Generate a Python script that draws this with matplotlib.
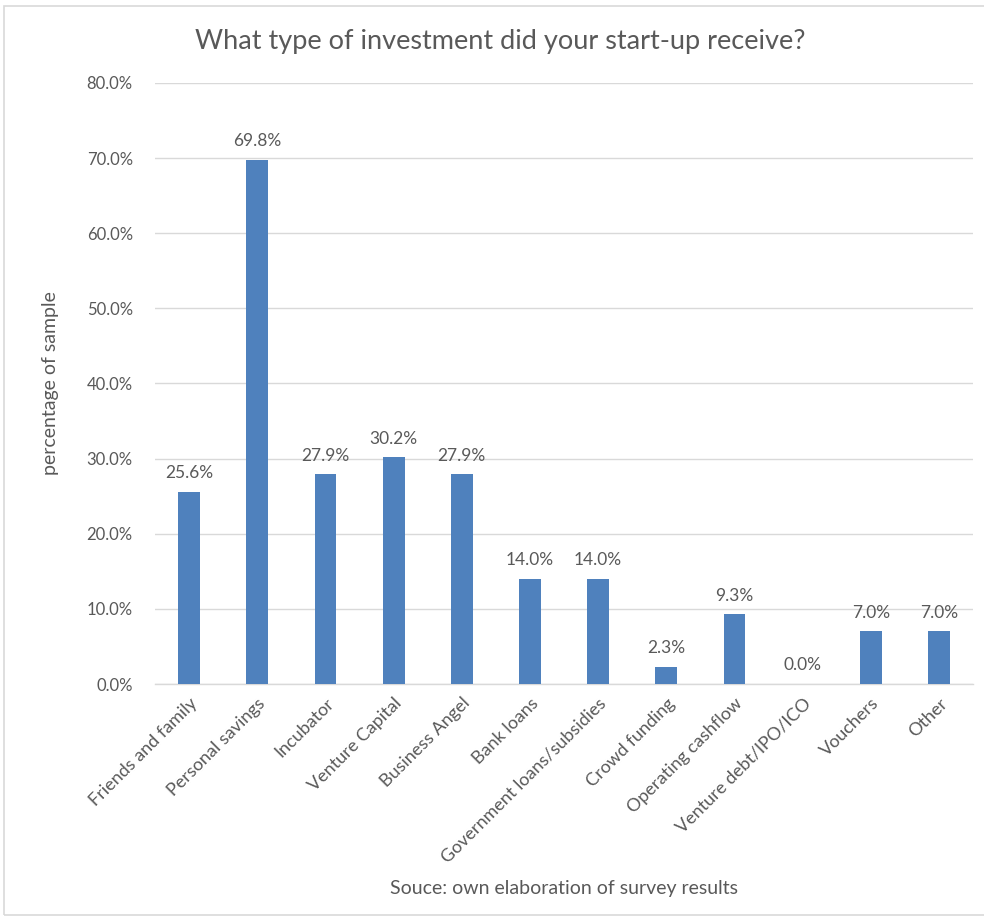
import matplotlib.pyplot as plt
from matplotlib.patches import Rectangle

# survey answers (share of respondents, %)
categories = ['Friends and family', 'Personal savings', 'Incubator', 'Venture Capital',
              'Business Angel', 'Bank loans', 'Government loans/subsidies', 'Crowd funding',
              'Operating cashflow', 'Venture debt/IPO/ICO', 'Vouchers', 'Other']
shares = [25.6, 69.8, 27.9, 30.2, 27.9, 14.0, 14.0, 2.3, 9.3, 0.0, 7.0, 7.0]
y_ticks = [0, 10, 20, 30, 40, 50, 60, 70, 80]

plt.rcParams['font.family'] = ['Lato', 'DejaVu Sans']
txt = '#595959'
grid = '#D9D9D9'

fig = plt.figure(figsize=(9.84, 9.19), dpi=100)
fig.patches.append(Rectangle((0.004, 0.004), 1.2, 0.99, transform=fig.transFigure,
                             fill=False, edgecolor=grid, linewidth=1.2))
ax = fig.add_axes([0.1575, 0.2557, 0.8315, 0.654])

x = list(range(len(categories)))
ax.bar(x, shares, width=0.32, color='#4F81BD', zorder=3)
for xi, v in zip(x, shares):
    ax.text(xi, v + 1.4, f'{v:.1f}%', ha='center', va='bottom', fontsize=12.5, color=txt)

ax.set_xlim(-0.5, len(categories) - 0.5)
ax.set_ylim(0, 80)
ax.set_yticks(y_ticks)
ax.set_yticklabels([f'{t:.1f}%' for t in y_ticks], fontsize=12, color=txt)
ax.set_xticks(x)
ax.set_xticklabels(categories, rotation=45, ha='right', rotation_mode='anchor',
                   fontsize=13, color=txt)
ax.tick_params(axis='both', length=0)
ax.tick_params(axis='y', pad=16)
ax.tick_params(axis='x', pad=8)
ax.grid(axis='y', color=grid, linewidth=1, zorder=0)
for s in ['top', 'right', 'left']:
    ax.spines[s].set_visible(False)
ax.spines['bottom'].set_color(grid)
ax.spines['bottom'].set_linewidth(1)

ax.set_ylabel('percentage of sample', fontsize=14, color=txt, labelpad=20)
ax.set_xlabel('Souce: own elaboration of survey results', fontsize=14, color=txt, labelpad=10)
fig.text(0.508, 0.955, 'What type of investment did your start-up receive?',
         ha='center', va='center', fontsize=19.5, color=txt)

fig.savefig('out.png', dpi=100)
